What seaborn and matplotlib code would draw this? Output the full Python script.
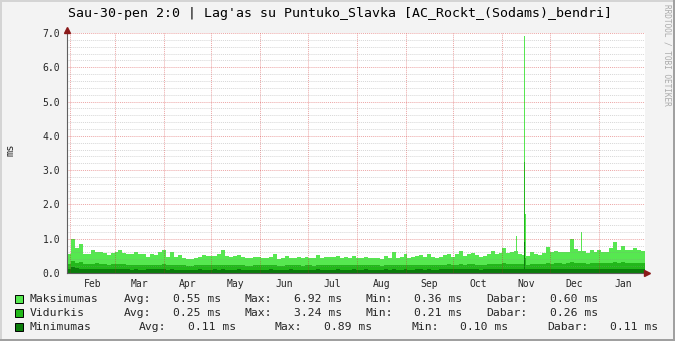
import numpy as np
import pandas as pd
import matplotlib
matplotlib.use("Agg")
import matplotlib.pyplot as plt
import matplotlib.transforms as mtransforms
from matplotlib.patches import Rectangle
import seaborn as sns

# ---------------- data ----------------
title = "Sau-30-pen 2:0 | Lag'as su Puntuko_Slavka [AC_Rockt_(Sodams)_bendri]"
y_label = "ms"
credit = "RRDTOOL / TOBI OETIKER"
months = ["Feb", "Mar", "Apr", "May", "Jun", "Jul", "Aug", "Sep", "Oct", "Nov", "Dec", "Jan"]
period_start = "2010-01-30 18:00"
period_days = 365
bucket_days = 2.5

max_vals = [
    0.56, 1.00, 0.72, 0.85, 0.55, 0.55, 0.68, 0.62, 0.62, 0.58, 0.52, 0.57, 0.60,
    0.68, 0.58, 0.56, 0.55, 0.62, 0.54, 0.55, 0.48, 0.55, 0.52, 0.60, 0.66,
    0.48, 0.60, 0.46, 0.52, 0.45, 0.40, 0.42, 0.45, 0.48, 0.52, 0.50, 0.49,
    0.51, 0.55, 0.68, 0.49, 0.47, 0.49, 0.53, 0.46, 0.44, 0.43, 0.46, 0.47,
    0.43, 0.44, 0.48, 0.55, 0.42, 0.43, 0.50, 0.44, 0.45, 0.47, 0.44, 0.46,
    0.44, 0.44, 0.52, 0.45, 0.47, 0.46, 0.47, 0.49, 0.45, 0.46, 0.45, 0.50,
    0.44, 0.45, 0.47, 0.44, 0.45, 0.45, 0.41, 0.50, 0.43, 0.60, 0.44, 0.46,
    0.55, 0.43, 0.46, 0.51, 0.52, 0.46, 0.55, 0.48, 0.43, 0.48, 0.52, 0.56,
    0.47, 0.55, 0.65, 0.50, 0.54, 0.57, 0.52, 0.47, 0.49, 0.55, 0.65, 0.54,
    0.58, 0.72, 0.58, 0.60, 0.65, 0.55, 0.53, 0.50, 0.60, 0.55, 0.53, 0.57, 0.75,
    0.60, 0.65, 0.62, 0.60, 0.62, 0.98, 0.70, 0.65, 0.63, 0.58, 0.68, 0.60,
    0.68, 0.62, 0.60, 0.72, 0.90, 0.68, 0.80, 0.66, 0.66, 0.72, 0.67, 0.65,
]
mid_vals = [
    0.26, 0.34, 0.30, 0.31, 0.27, 0.26, 0.27, 0.28, 0.25, 0.25, 0.24, 0.27, 0.25,
    0.26, 0.25, 0.24, 0.23, 0.24, 0.23, 0.22, 0.22, 0.23, 0.24, 0.24, 0.25,
    0.23, 0.24, 0.22, 0.23, 0.22, 0.21, 0.21, 0.22, 0.22, 0.23, 0.22, 0.22,
    0.23, 0.23, 0.24, 0.22, 0.22, 0.22, 0.23, 0.22, 0.21, 0.21, 0.22, 0.22,
    0.22, 0.22, 0.23, 0.23, 0.21, 0.21, 0.22, 0.22, 0.22, 0.22, 0.21, 0.22,
    0.22, 0.21, 0.23, 0.22, 0.22, 0.22, 0.22, 0.23, 0.22, 0.22, 0.22, 0.23,
    0.22, 0.22, 0.23, 0.22, 0.22, 0.22, 0.21, 0.23, 0.22, 0.24, 0.22, 0.22,
    0.23, 0.22, 0.22, 0.23, 0.23, 0.22, 0.24, 0.23, 0.22, 0.23, 0.24, 0.25,
    0.23, 0.24, 0.26, 0.24, 0.25, 0.25, 0.24, 0.23, 0.24, 0.25, 0.26, 0.25,
    0.26, 0.28, 0.26, 0.26, 0.27, 0.25, 0.25, 0.24, 0.26, 0.25, 0.25, 0.26, 0.28,
    0.27, 0.28, 0.28, 0.27, 0.28, 0.32, 0.29, 0.28, 0.28, 0.27, 0.29, 0.28,
    0.30, 0.28, 0.28, 0.30, 0.32, 0.29, 0.31, 0.29, 0.29, 0.30, 0.29, 0.29,
]
min_vals = [
    0.13, 0.17, 0.14, 0.13, 0.12, 0.12, 0.12, 0.12, 0.11, 0.11, 0.11, 0.12, 0.11,
    0.11, 0.11, 0.11, 0.10, 0.11, 0.10, 0.10, 0.11, 0.11, 0.11, 0.11, 0.11,
    0.10, 0.11, 0.10, 0.10, 0.10, 0.10, 0.10, 0.10, 0.11, 0.10, 0.10, 0.10,
    0.11, 0.10, 0.11, 0.10, 0.10, 0.10, 0.11, 0.10, 0.10, 0.10, 0.10, 0.10,
    0.10, 0.10, 0.11, 0.10, 0.10, 0.10, 0.10, 0.11, 0.10, 0.10, 0.10, 0.10,
    0.10, 0.10, 0.11, 0.10, 0.10, 0.10, 0.10, 0.11, 0.10, 0.10, 0.10, 0.11,
    0.10, 0.10, 0.11, 0.10, 0.10, 0.10, 0.10, 0.11, 0.10, 0.11, 0.10, 0.10,
    0.11, 0.10, 0.10, 0.11, 0.11, 0.10, 0.11, 0.10, 0.10, 0.11, 0.11, 0.11,
    0.11, 0.11, 0.12, 0.11, 0.11, 0.11, 0.11, 0.10, 0.11, 0.11, 0.12, 0.11,
    0.11, 0.12, 0.11, 0.11, 0.12, 0.11, 0.11, 0.11, 0.11, 0.11, 0.11, 0.11, 0.12,
    0.11, 0.12, 0.12, 0.11, 0.12, 0.13, 0.12, 0.12, 0.12, 0.11, 0.12, 0.12,
    0.12, 0.12, 0.11, 0.12, 0.13, 0.12, 0.12, 0.12, 0.12, 0.12, 0.11, 0.11,
]
# short single samples (day offset, duration in days)
spike_days = [283.3, 288.45, 289.05, 324.4]
spike_len = [0.63, 0.60, 0.85, 0.63]
spike_max = [1.09, 6.92, 1.73, 1.20]
spike_mid = [0.26, 3.24, 0.45, 0.28]
spike_min = [0.11, 0.89, 0.12, 0.12]

series_names = ["Maksimumas", "Vidurkis", "Minimumas"]
series_colors = ["#56E850", "#22B81A", "#0B7D0B"]
stat_labels = ["Avg:", "Max:", "Min:", "Dabar:"]
stat_values = [
    ["0.55 ms", "6.92 ms", "0.36 ms", "0.60 ms"],
    ["0.25 ms", "3.24 ms", "0.21 ms", "0.26 ms"],
    ["0.11 ms", "0.89 ms", "0.10 ms", "0.11 ms"],
]
y_ticks = [0, 1, 2, 3, 4, 5, 6, 7]

# ---------------- figure ----------------
sns.set_style("white")
plt.rcParams["font.family"] = ["DejaVu Sans Mono"]

W, H = 675, 341
fig = plt.figure(figsize=(W / 100, H / 100), dpi=100, facecolor="#F3F3F3")
L, R, T, B = 67, 645, 33, 273
ax = fig.add_axes([L / W, (H - B) / H, (R - L) / W, (B - T) / H])
ax.set_facecolor("white")

n = len(max_vals)
edges = [i * bucket_days for i in range(n + 1)]
centers = [e + bucket_days / 2 for e in edges[:-1]]
base_df = pd.DataFrame({"t": centers, "max": max_vals, "mid": mid_vals, "min": min_vals})

sp_edges = []
sp_rows = []
for i, (d, w) in enumerate(zip(spike_days, spike_len)):
    if sp_edges and sp_edges[-1] < d:
        sp_rows.append(((sp_edges[-1] + d) / 2, 0.0, 0.0, 0.0))
    if not sp_edges or sp_edges[-1] < d:
        sp_edges.append(d)
    sp_edges.append(d + w)
    sp_rows.append((d + w / 2, spike_max[i], spike_mid[i], spike_min[i]))
spike_df = pd.DataFrame(sp_rows, columns=["t", "max", "mid", "min"])

for key, col in zip(["max", "mid", "min"], series_colors):
    sns.histplot(data=base_df, x="t", weights=key, bins=edges, element="step", fill=True,
                 color=col, alpha=1, linewidth=0, ax=ax)
    sns.histplot(data=spike_df, x="t", weights=key, bins=sp_edges, element="step", fill=True,
                 color=col, alpha=1, linewidth=0, ax=ax)

ax.set_xlim(0, period_days)
ax.set_ylim(0, 7)
ax.set_xlabel("")
ax.set_ylabel("")

# time axis
start = pd.Timestamp(period_start)
mstarts = pd.date_range(start, start + pd.Timedelta(days=period_days + 40), freq="MS")
mdays = np.array([(m - start) / pd.Timedelta(days=1) for m in mstarts])
mid_month = (mdays[:-1] + mdays[1:]) / 2
ax.set_xticks(mid_month[:len(months)])
ax.set_xticklabels(months)
ax.set_xticks([d for d in mdays if d < period_days], minor=True)
ax.tick_params(axis="x", which="major", length=0, pad=4, labelsize=7)
ax.tick_params(axis="x", which="minor", length=2, width=0.7, color="#808080", direction="out")

ax.set_yticks(y_ticks)
ax.set_yticklabels([f"{v:.1f}" for v in y_ticks])
ax.set_yticks(np.arange(0, 7.01, 0.2), minor=True)
ax.tick_params(axis="y", which="both", length=2, width=0.7, color="#808080", direction="out",
               pad=3, labelsize=7)

ax.set_axisbelow(False)
dot = (0, (1, 1))
ax.yaxis.grid(True, which="minor", color="#8c8c8c", alpha=0.35, linestyle=dot, linewidth=0.7)
ax.yaxis.grid(True, which="major", color="#d02020", alpha=0.4, linestyle=dot, linewidth=0.7)
ax.xaxis.grid(True, which="minor", color="#d02020", alpha=0.4, linestyle=dot, linewidth=0.7)
ax.xaxis.grid(False, which="major")

for s in ["top", "right"]:
    ax.spines[s].set_visible(False)
for s in ["left", "bottom"]:
    ax.spines[s].set_color("#606060")
    ax.spines[s].set_linewidth(0.8)
    ax.spines[s].set_zorder(5)

arrow_col = "#8B1A1A"
ax.plot([0], [1], marker="^", ms=4.5, color=arrow_col, clip_on=False, zorder=6,
        transform=mtransforms.offset_copy(ax.transAxes, fig=fig, x=0, y=3, units="dots"))
ax.plot([1], [0], marker=">", ms=4.5, color=arrow_col, clip_on=False, zorder=6,
        transform=mtransforms.offset_copy(ax.transAxes, fig=fig, x=2, y=0, units="dots"))

# texts
def fx(px):
    return px / W

def fy(py):
    return 1 - py / H

fig.text(fx(340), fy(13), title, ha="center", va="center", fontsize=9.5, color="black")
fig.text(fx(11), fy(150), y_label, ha="center", va="center", rotation=90, fontsize=7.5)
fig.text(fx(667), fy(4), credit, ha="center", va="top", rotation=270, fontsize=5.6, color="#AAAAAA")

row_y = [299, 313, 327]
cols_12 = [124, 172.6, 244.5, 293.6, 365.5, 414.5, 486.4, 549.7]
cols_3 = [139, 187.7, 274.6, 323.7, 411, 460.2, 547, 610.4]
for r in range(3):
    y = row_y[r]
    fig.add_artist(Rectangle((fx(15), fy(y + 4)), 8 / W, 8 / H, transform=fig.transFigure,
                             facecolor=series_colors[r], edgecolor="black", linewidth=0.7))
    fig.text(fx(30), fy(y), series_names[r], ha="left", va="center", fontsize=8.2)
    cols = cols_12 if r < 2 else cols_3
    parts = []
    for k in range(4):
        parts += [stat_labels[k], stat_values[r][k]]
    for xpos, txt in zip(cols, parts):
        fig.text(fx(xpos), fy(y), txt, ha="left", va="center", fontsize=8.2)

# 3D frame
fig.add_artist(Rectangle((0, 1 - 2 / H), 1, 2 / H, transform=fig.transFigure, color="#D4D4D4", lw=0))
fig.add_artist(Rectangle((0, 0), 2 / W, 1, transform=fig.transFigure, color="#D4D4D4", lw=0))
fig.add_artist(Rectangle((0, 0), 1, 2 / H, transform=fig.transFigure, color="#A0A0A0", lw=0))
fig.add_artist(Rectangle((1 - 2 / W, 0), 2 / W, 1, transform=fig.transFigure, color="#A0A0A0", lw=0))

fig.savefig("out.png", dpi=100, facecolor=fig.get_facecolor())
